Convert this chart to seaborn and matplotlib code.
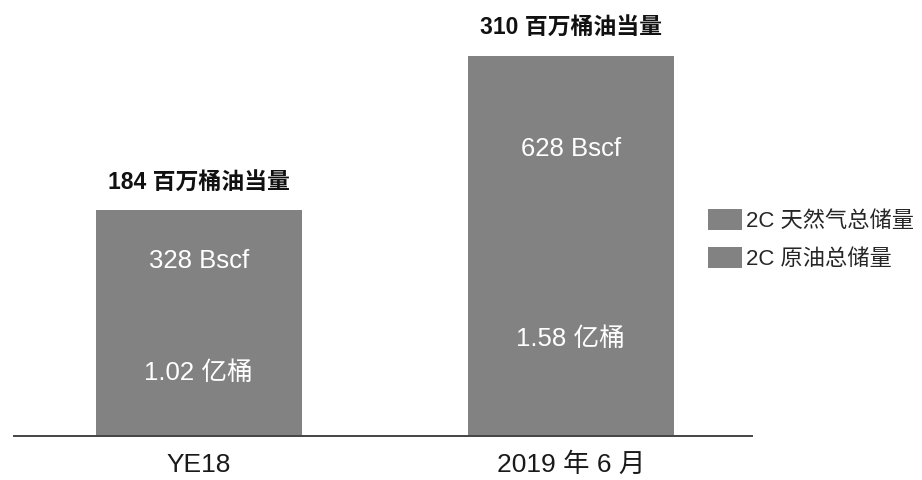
import matplotlib
matplotlib.use("Agg")
import matplotlib.pyplot as plt
from matplotlib.patches import Patch
import seaborn as sns
import pandas as pd

# 2C resources, in million barrels of oil equivalent
periods = ["YE18", "2019 年 6 月"]
oil_mmboe = [102, 158]
gas_mmboe = [82, 152]
total_mmboe = [184, 310]
gas_labels = ["328 Bscf", "628 Bscf"]
oil_labels = ["1.02 亿桶", "1.58 亿桶"]
total_labels = ["184 百万桶油当量", "310 百万桶油当量"]
legend_labels = ["2C 天然气总储量", "2C 原油总储量"]

sns.set_theme(style="white")
fonts = ["Liberation Sans", "Noto Sans CJK SC", "DejaVu Sans"]
plt.rcParams["font.family"] = fonts

bar_color = "#828282"
df = pd.DataFrame({"period": periods, "oil": oil_mmboe, "gas": gas_mmboe,
                   "total": total_mmboe})

fig = plt.figure(figsize=(9.22, 4.8), dpi=100)
ax = fig.add_axes([14 / 922, 44 / 480, 738 / 922, 436 / 480])

# stacked bars: total first, oil drawn over its lower part
sns.barplot(data=df, x="period", y="total", color=bar_color, width=0.554,
            saturation=1, linewidth=0, ax=ax)
sns.barplot(data=df, x="period", y="oil", color=bar_color, width=0.554,
            saturation=1, linewidth=0, ax=ax)

ax.set_xlim(-0.497, 1.487)
ax.set_ylim(0, 355.7)
ax.set_xlabel("")
ax.set_ylabel("")
ax.set_yticks([])
for side in ["left", "right", "top"]:
    ax.spines[side].set_visible(False)
ax.spines["bottom"].set_color("#444444")
ax.spines["bottom"].set_linewidth(1.4)
ax.tick_params(axis="x", length=0, pad=12, labelsize=19, labelcolor="#1a1a1a")

for i in range(len(periods)):
    ax.text(i, oil_mmboe[i] / 2, oil_labels[i], ha="center", va="center",
            color="white", fontsize=18.5, family=fonts)
    ax.text(i, oil_mmboe[i] + gas_mmboe[i] / 2, gas_labels[i], ha="center",
            va="center", color="white", fontsize=18.5, family=fonts)
    ax.text(i, total_mmboe[i] + 23, total_labels[i], ha="center",
            va="center", color="#111111", fontsize=16.5, fontweight="bold",
            family=fonts)

handles = [Patch(facecolor=bar_color, edgecolor="none") for _ in legend_labels]
fig.legend(handles, legend_labels, loc="upper left",
           bbox_to_anchor=(699 / 922, 1 - 200 / 480), frameon=False,
           fontsize=16, handlelength=1.55, handleheight=1.1, handletextpad=0.15,
           labelspacing=0.65, borderaxespad=0)

fig.savefig("out.png", dpi=100)
